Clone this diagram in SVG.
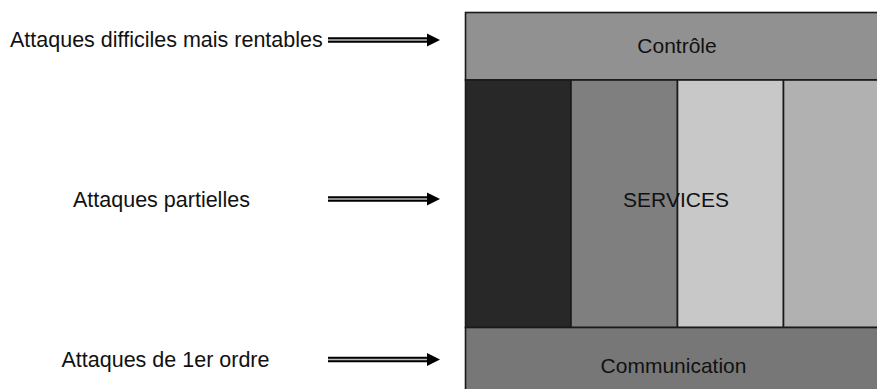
<svg xmlns="http://www.w3.org/2000/svg" width="877" height="389" viewBox="0 0 877 389">
<style>
.lbl{font-family:"Liberation Sans",Arial,sans-serif;font-size:21px;fill:#111}
.side{font-size:21.5px}
.box{stroke:#1a1a1a;stroke-width:1.6}
.sh{stroke:#000;stroke-width:5.5}
.sh2{stroke:#bdbdbd;stroke-width:1.6}
</style>
<defs>
<g id="arrow">
<line class="sh" x1="328" y1="0" x2="430" y2="0"/>
<line class="sh2" x1="328" y1="0" x2="428" y2="0"/>
<polygon points="427,-6.5 440,0 427,6.5" fill="#000"/>
</g>
</defs>
<rect width="877" height="389" fill="#fff"/>
<g id="controle">
<rect class="box" x="465.5" y="12.5" width="440" height="67.5" fill="#919191"/>
<text class="lbl" x="677" y="52.5" text-anchor="middle">Contrôle</text>
</g>
<g id="services">
<rect class="box" x="465.5" y="80" width="105.5" height="247.5" fill="#282828"/>
<rect class="box" x="571" y="80" width="106.5" height="247.5" fill="#7f7f7f"/>
<rect class="box" x="677.5" y="80" width="106" height="247.5" fill="#c8c8c8"/>
<rect class="box" x="783.5" y="80" width="122" height="247.5" fill="#b1b1b1"/>
<text class="lbl" x="676" y="206.5" text-anchor="middle">SERVICES</text>
</g>
<g id="communication">
<rect class="box" x="465.5" y="327.5" width="440" height="80" fill="#777777"/>
<text class="lbl" x="673.5" y="373" text-anchor="middle">Communication</text>
</g>
<g id="labels">
<text class="lbl side" x="10" y="47">Attaques difficiles mais rentables</text>
<text class="lbl side" x="73" y="207">Attaques partielles</text>
<text class="lbl side" x="61.5" y="366.5">Attaques de 1er ordre</text>
</g>
<g id="connectors">
<use href="#arrow" transform="translate(0,40)"/>
<use href="#arrow" transform="translate(0,199)"/>
<use href="#arrow" transform="translate(0,359.5)"/>
</g>
</svg>
